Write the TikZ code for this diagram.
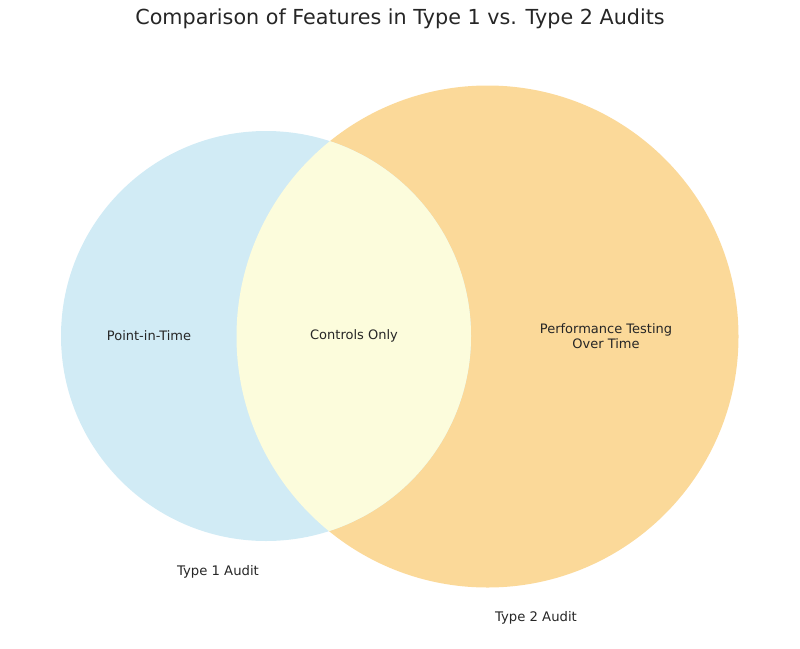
\documentclass[tikz,border=0pt]{standalone}
\usepackage{fontspec}
\setmainfont{DejaVu Sans}
\usetikzlibrary{positioning}
\definecolor{typeone}{HTML}{D1EBF5}
\definecolor{typetwo}{HTML}{FBD999}
\definecolor{both}{HTML}{FCFCDC}
\definecolor{ink}{HTML}{262626}

\begin{document}
\begin{tikzpicture}[x=1pt, y=-1pt,
  lab/.style={font=\fontsize{13}{15.5}\selectfont, text=ink, align=center},
  setlab/.style={font=\fontsize{13.2}{15.5}\selectfont, text=ink}
]
\useasboundingbox (0,0) rectangle (800,648);
\node[font=\fontsize{20.7}{24}\selectfont, text=ink] (title) at (400,19) {Comparison of Features in Type 1 vs. Type 2 Audits};

\fill[typetwo] (487.5,336.5) circle (251);
\fill[typeone] (266,336) circle (205);
\begin{scope}
  \clip (266,336) circle (205);
  \fill[both] (487.5,336.5) circle (251);
\end{scope}

\node[lab] (left) at (149,336) {Point-in-Time};
\node[lab] (mid) at (354,336) {Controls Only};
\node[lab] (right) at (606,336) {Performance Testing\\Over Time};
\node[setlab] (one) at (218,572) {Type 1 Audit};
\node[setlab] (two) at (536,618) {Type 2 Audit};
\end{tikzpicture}
\end{document}
